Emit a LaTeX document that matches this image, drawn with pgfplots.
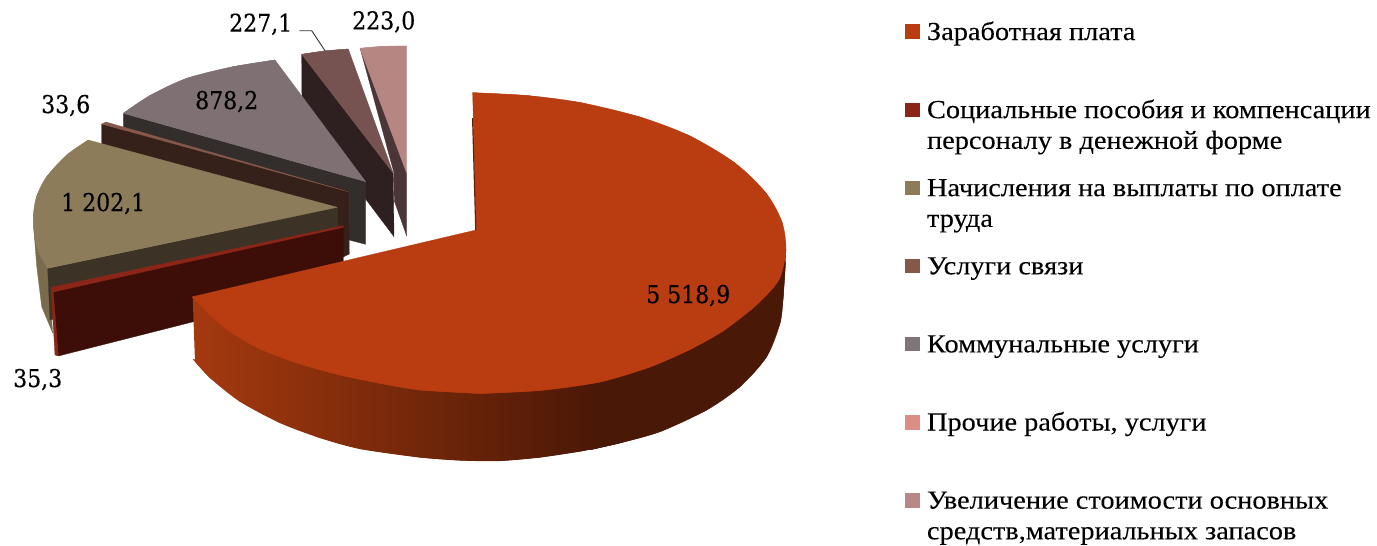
\documentclass[border=0pt]{standalone}
\usepackage{fontspec}
\setmainfont{Liberation Serif}[FakeStretch=1.09,FakeBold=0.15]
\newfontfamily\numfont{DejaVu Serif Condensed}[FakeBold=0.3]
\usepackage{pgfplots}
\pgfplotsset{compat=1.18}
\definecolor{cOr}{HTML}{B93D10}
\definecolor{cOrD}{HTML}{4A1806}
\definecolor{cOrL}{HTML}{A5390F}
\definecolor{cMa}{HTML}{3D0E07}
\definecolor{cMaT}{HTML}{8A2518}
\definecolor{cTa}{HTML}{8D7C59}
\definecolor{cTaS}{HTML}{7A6B4D}
\definecolor{cTaF}{HTML}{3C3226}
\definecolor{cBr}{HTML}{85584A}
\definecolor{cBrF}{HTML}{35211A}
\definecolor{cGr}{HTML}{7E7073}
\definecolor{cGrF}{HTML}{332E2C}
\definecolor{cFi}{HTML}{765251}
\definecolor{cFiF}{HTML}{2E2020}
\definecolor{cSi}{HTML}{B58682}
\definecolor{cSiF}{HTML}{4C3537}
\definecolor{lPr}{HTML}{DC8E84}
\definecolor{lUv}{HTML}{B98886}
\definecolor{lGr}{HTML}{80737A}
\newcommand{\poly}[2]{\addplot[fill=#1,draw=#1,line width=0.3pt,line join=round,forget plot] coordinates {#2};}
\newcommand{\curve}[2]{\addplot[fill=#1,draw=#1,line width=0.3pt,smooth,tension=0.5,forget plot] coordinates {#2};}
\newcommand{\ent}[1]{\rule[-58.1pt]{0pt}{78.1pt}\parbox[t]{450pt}{\raggedright #1}}
\newcommand{\entlast}[1]{\rule{0pt}{20pt}\parbox[t]{450pt}{\raggedright #1}}
\newcommand{\val}[3]{\node[anchor=base west,inner sep=0pt,font=\fontsize{24.5}{26}\selectfont\numfont] at (axis cs:#1,#2) {#3};}
\begin{document}
\begin{tikzpicture}
\begin{axis}[
  scale only axis, width=1377pt, height=546pt,
  xmin=0, xmax=1377, ymin=0, ymax=546, y dir=reverse,
  axis line style={draw=none}, xtick=\empty, ytick=\empty, clip=false, no marks,
  legend image code/.code={\fill[#1,draw=none] (0pt,1pt) rectangle (15pt,15.6pt);},
  legend style={at={(axis cs:905,20)},anchor=north west,draw=none,fill=none,
    inner sep=0pt,outer sep=0pt,row sep=0pt,column sep=7pt,
    cells={anchor=base west},nodes={inner sep=0pt,outer sep=0pt,text depth=},
    font=\fontsize{26}{30.7}\selectfont},
]
\addlegendimage{fill=cOr}\addlegendentry{\ent{Заработная плата}}
\addlegendimage{fill=cMaT}\addlegendentry{\ent{Социальные пособия и компенсации\\персоналу в денежной форме}}
\addlegendimage{fill=cTa}\addlegendentry{\ent{Начисления на выплаты по оплате\\труда}}
\addlegendimage{fill=cBr}\addlegendentry{\ent{Услуги связи}}
\addlegendimage{fill=lGr}\addlegendentry{\ent{Коммунальные услуги}}
\addlegendimage{fill=lPr}\addlegendentry{\ent{Прочие работы, услуги}}
\addlegendimage{fill=lUv}\addlegendentry{\entlast{Увеличение стоимости основных\\средств,материальных запасов}}

% 223,0
\poly{cSiF}{(360,47.7)(406.7,173.3)(406.7,236)(394.3,201)(394,173)(360,47.7)}
\curve{cSi}{(360,48.3)(383.3,46.3)(406.7,46)}
\poly{cSi}{(360,48.3)(383.3,46.3)(406.7,46)(406.7,173.3)(360,48.3)}
% 227,1
\poly{cFiF}{(301.7,54.3)(393.3,173.3)(394,236.7)(366,199.5)(302,113)(301.7,54.3)}
\curve{cFi}{(301.7,54.3)(325,50.9)(348.3,49)}
\poly{cFi}{(301.7,54.3)(325,50.9)(348.3,49)(393.3,173.3)(301.7,54.3)}
\addplot[draw=black!80,line width=0.9pt,forget plot] coordinates {(299.3,30.7)(311.7,30.7)(325,50.7)};
% 878,2
\poly{cGrF}{(123.3,113.3)(365.7,181.7)(365.7,244.3)(349,240)(123.3,135)(123.3,113.3)}
\curve{cGr}{(123.3,113.3)(150,95.5)(186.7,78.3)(233,66.7)(275,60)}
\poly{cGr}{(123.3,113.3)(150,95.5)(186.7,78.3)(233,66.7)(275,60)(365.7,181.7)(123.3,113.3)}
% 33,6
\poly{cBrF}{(101.7,124)(348.3,191)(349.3,254)(337,260)(101.7,160)(101.7,124)}
\poly{cBr}{(101.7,124)(106,122)(348.3,191.7)(101.7,124)}
% 1 202,1
\poly{cTaS}{(33.5,225)(35,240)(47.7,268.3)(52.7,333)(41.7,306.7)(36.7,266)(33.5,225)}
\poly{cTaF}{(47.7,268.3)(337.3,207.3)(338.3,230)(338.3,240)(50,320)(47.7,268.3)}
\curve{cTa}{(88.3,140)(66.7,155)(46.7,176.7)(36.5,196.7)(33.3,216.7)(35,240)(40,255)(47.7,268.3)}
\poly{cTa}{(88.3,140)(66.7,155)(46.7,176.7)(36.5,196.7)(33.3,216.7)(35,240)(40,255)(47.7,268.3)(337.3,207.3)(88.3,140)}
% 35,3
\poly{cMa}{(52.7,291.7)(343.3,227.3)(343.3,283.7)(58.3,356)(52.7,291.7)}
\poly{cMaT}{(51,287.3)(343.3,225.7)(343.3,227.3)(53.3,292)(58.3,356)(55,355)(51,287.3)}
% 5 518,9 side: plain dark part first, then the shaded part over its left end
\curve{cOrD}{(590,449.8)(620,443)(660,431.7)(706.7,410)(740,386.7)(766.7,356.7)(780,323.3)(783,300)(785.7,261.7)}
\poly{cOrD}{(590,449.8)(620,443)(660,431.7)(706.7,410)(740,386.7)(766.7,356.7)(780,323.3)(783,300)(785.7,255)(590,380)(590,449.8)}
\addplot[left color=cOrL,right color=cOrD,draw=none,smooth,tension=0.5,forget plot] coordinates {(192.7,359)(195,361.7)(210,378)(240,401.7)(280,423)(320,438)(360,449)(420,457.5)(460,460.5)(500,461)(540,457.5)(580,451.5)(600,447.5)};
\addplot[left color=cOrL,right color=cOrD,draw=none,forget plot] coordinates {(192.7,296.7)(195,361.7)(210,378)(240,401.7)(280,423)(320,438)(360,449)(420,457.5)(460,460.5)(500,461)(540,457.5)(580,451.5)(600,447.5)(600,380)(192.7,296.7)};
% 5 518,9 top
\curve{cOr}{(472.7,92.7)(526.7,95.5)(580,102.5)(640,117)(690,136)(735,163)(766,193)(782,222)(786,250)(781,275)(773,288)(753,308)(723,331)(690,349.5)(650,367)(600,382)(540,390.5)(480,393.5)}
\curve{cOr}{(480,393.5)(420,390)(380,383.3)(340,375)(300,364)(260,349)(230,331.7)(210,315)(192.7,296.7)}
\poly{cOr}{(472.7,92.7)(526.7,95.5)(580,102.5)(640,117)(690,136)(735,163)(766,193)(782,222)(786,250)(781,275)(773,288)(753,308)(723,331)(690,349.5)(650,367)(600,382)(540,390.5)(480,393.5)(420,390)(380,383.3)(340,375)(300,364)(260,349)(230,331.7)(210,315)(192.7,296.7)(476,230)(472.7,92.7)}
\addplot[fill=cOrD!80!cOr,draw=none,forget plot] coordinates {(472,118)(473.2,118)(476.3,230)(475.2,230)(472,118)};

\val{229}{31.7}{227,1}
\val{352}{29.3}{223,0}
\val{41}{113}{33,6}
\val{195}{109}{878,2}
\val{61}{211}{1 202,1}
\val{13}{387}{35,3}
\val{646}{303}{5 518,9}
\end{axis}
\end{tikzpicture}
\end{document}
